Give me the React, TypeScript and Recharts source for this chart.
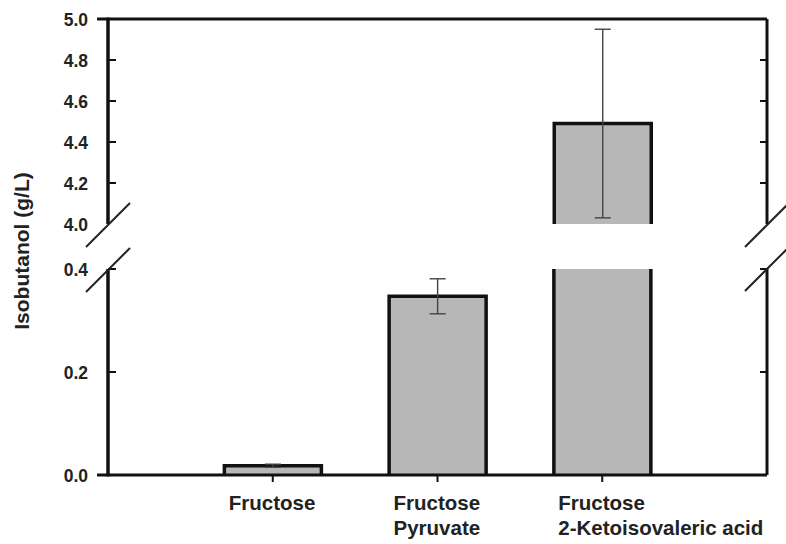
import React from "react";
import { BarChart, Bar, XAxis, YAxis, ErrorBar } from "recharts";

// ---------------- data ----------------
const categoryPositions = [1, 2, 3];
const categoryLabels = [
  ["Fructose"],
  ["Fructose", "Pyruvate"],
  ["Fructose", "2-Ketoisovaleric acid"],
];
const isobutanol = [0.018, 0.347, 4.49];
const isobutanolErr = [0.003, 0.034, 0.46];
const lowerTicks = [0, 0.2, 0.4];
const lowerInnerTicks = [0.2, 0.4];
const upperTicks = [4.0, 4.2, 4.4, 4.6, 4.8, 5.0];
const upperInnerTicks = [4.2, 4.4, 4.6, 4.8];
const lowerDomain = [0, 0.4];
const upperDomain = [4, 5];
const xDomain = [0, 4];
const yTitle = "Isobutanol (g/L)";

// ---------------- layout ----------------
const W = 786;
const H = 544;
const PLOT_LEFT = 108;
const PLOT_RIGHT = 767;
const UPPER_TOP = 19;
const UPPER_BOTTOM = 224;
const LOWER_TOP = 269;
const LOWER_BOTTOM = 475;
const UPPER_H = 250;
const LOWER_Y = 244;
const LOWER_H = H - LOWER_Y;
const YAXIS_W = 60;
const RAXIS_W = 1;
const XAXIS_H = 60;
const TICK_GAP = 20;
const FONT = "'Liberation Sans', Arial, Helvetica, sans-serif";
const AXIS_COLOR = "#111";
const TEXT_COLOR = "#222";
const BAR_FILL = "#b7b7b7";

const rows = categoryPositions.map((x, i) => ({
  x,
  value: isobutanol[i],
  err: isobutanolErr[i],
}));
const lowerData = rows.map((r) => ({
  ...r,
  err: r.value + r.err <= lowerDomain[1] ? r.err : null,
}));
const upperData = rows.filter((r) => r.value >= upperDomain[0]);

const makeYTick = (outwardValue: number) => (props: any) => {
  const { x, y, payload } = props;
  const v = payload.value as number;
  const axisX = x + TICK_GAP;
  return (
    <g>
      {v === outwardValue && (
        <line x1={axisX - 11} x2={axisX} y1={y} y2={y} stroke={AXIS_COLOR} strokeWidth={3} />
      )}
      <text
        x={x}
        y={y}
        dy="0.42em"
        textAnchor="end"
        fontFamily={FONT}
        fontWeight={700}
        fontSize={17.5}
        fill={TEXT_COLOR}
      >
        {v.toFixed(1)}
      </text>
    </g>
  );
};
const UpperYTick = makeYTick(5);
const LowerYTick = makeYTick(0);

const RightTick = (props: any) => {
  const { x, y } = props;
  return <line x1={x - 7} x2={x} y1={y} y2={y} stroke={AXIS_COLOR} strokeWidth={2} />;
};

const XTick = (props: any) => {
  const { x, y, payload } = props;
  const idx = categoryPositions.indexOf(payload.value);
  const lines = idx >= 0 ? categoryLabels[idx] : [];
  return (
    <text
      x={x - 44}
      y={y}
      textAnchor="start"
      fontFamily={FONT}
      fontWeight={700}
      fontSize={20.5}
      fill={TEXT_COLOR}
    >
      {lines.map((l, i) => (
        <tspan key={i} x={x - 44} y={y + 26 + i * 25}>
          {l}
        </tspan>
      ))}
    </text>
  );
};

const OpenBar = (props: any) => {
  const { x, y, width, height, fill, background } = props;
  if (x == null || y == null || height == null) return null;
  let top = Math.min(y, y + height);
  let bottom = Math.max(y, y + height);
  let drawTop = true;
  if (background && typeof background.y === "number") {
    const bTop = background.y;
    const bBottom = background.y + background.height;
    if (top < bTop) {
      top = bTop;
      drawTop = false;
    }
    if (bottom > bBottom) bottom = bBottom;
  }
  if (bottom <= top) return null;
  const d = drawTop
    ? `M${x},${bottom} L${x},${top} L${x + width},${top} L${x + width},${bottom}`
    : `M${x},${bottom} L${x},${top} M${x + width},${top} L${x + width},${bottom}`;
  return (
    <g>
      <rect x={x} y={top} width={width} height={bottom - top} fill={fill} />
      <path d={d} fill="none" stroke={AXIS_COLOR} strokeWidth={3.5} />
    </g>
  );
};

const axisLineStyle = { stroke: AXIS_COLOR, strokeWidth: 3 };
const xTickLineStyle = { stroke: AXIS_COLOR, strokeWidth: 2 };

// linear position of an axis value inside a panel (same mapping as the chart's y scale)
const panelY = (v: number, domain: number[], top: number, bottom: number) =>
  top + ((domain[1] - v) / (domain[1] - domain[0])) * (bottom - top);

export default function App() {
  const slashes = [
    [PLOT_LEFT, UPPER_BOTTOM + 1],
    [PLOT_LEFT, LOWER_TOP + 1],
    [PLOT_RIGHT, UPPER_BOTTOM + 1],
    [PLOT_RIGHT, LOWER_TOP],
  ];
  const leftTicks = [
    ...upperInnerTicks.map((v) => panelY(v, upperDomain, UPPER_TOP, UPPER_BOTTOM)),
    ...lowerInnerTicks.map((v) => panelY(v, lowerDomain, LOWER_TOP, LOWER_BOTTOM)),
  ];
  return (
    <div style={{ position: "absolute", left: 0, top: 0, width: W, height: H }}>
      <div style={{ position: "absolute", left: 0, top: 0 }}>
        <BarChart
          width={W}
          height={UPPER_H}
          data={upperData}
          margin={{
            top: UPPER_TOP - 1,
            right: W - PLOT_RIGHT - RAXIS_W,
            bottom: UPPER_H - UPPER_BOTTOM,
            left: PLOT_LEFT - YAXIS_W,
          }}
        >
          <XAxis
            type="number"
            dataKey="x"
            domain={xDomain}
            orientation="top"
            height={1}
            tick={false}
            tickLine={false}
            axisLine={axisLineStyle}
          />
          <YAxis
            yAxisId="l"
            type="number"
            domain={upperDomain}
            ticks={upperTicks}
            allowDataOverflow
            width={YAXIS_W}
            tickSize={0}
            tickMargin={TICK_GAP}
            tickLine={false}
            tick={UpperYTick}
            axisLine={axisLineStyle}
            interval={0}
          />
          <YAxis
            yAxisId="r"
            orientation="right"
            type="number"
            domain={upperDomain}
            ticks={upperInnerTicks}
            allowDataOverflow
            width={RAXIS_W}
            tickSize={0}
            tickMargin={0}
            tickLine={false}
            tick={RightTick}
            axisLine={axisLineStyle}
            interval={0}
          />
          <Bar
            yAxisId="l"
            dataKey="value"
            fill={BAR_FILL}
            barSize={97}
            shape={OpenBar}
            isAnimationActive={false}
          >
            <ErrorBar dataKey="err" width={8} stroke="#444" strokeWidth={1.4} />
          </Bar>
        </BarChart>
      </div>
      <div style={{ position: "absolute", left: 0, top: LOWER_Y }}>
        <BarChart
          width={W}
          height={LOWER_H}
          data={lowerData}
          margin={{
            top: LOWER_TOP - LOWER_Y,
            right: W - PLOT_RIGHT - RAXIS_W,
            bottom: LOWER_H - (LOWER_BOTTOM - LOWER_Y) - XAXIS_H,
            left: PLOT_LEFT - YAXIS_W,
          }}
        >
          <XAxis
            type="number"
            dataKey="x"
            domain={xDomain}
            ticks={categoryPositions}
            interval={0}
            height={XAXIS_H}
            tickSize={7}
            tickMargin={2}
            tickLine={xTickLineStyle}
            axisLine={axisLineStyle}
            tick={XTick}
          />
          <YAxis
            yAxisId="l"
            type="number"
            domain={lowerDomain}
            ticks={lowerTicks}
            allowDataOverflow
            width={YAXIS_W}
            tickSize={0}
            tickMargin={TICK_GAP}
            tickLine={false}
            tick={LowerYTick}
            axisLine={axisLineStyle}
            interval={0}
          />
          <YAxis
            yAxisId="r"
            orientation="right"
            type="number"
            domain={lowerDomain}
            ticks={lowerInnerTicks}
            allowDataOverflow
            width={RAXIS_W}
            tickSize={0}
            tickMargin={0}
            tickLine={false}
            tick={RightTick}
            axisLine={axisLineStyle}
            interval={0}
          />
          <Bar
            yAxisId="l"
            dataKey="value"
            fill={BAR_FILL}
            barSize={97}
            shape={OpenBar}
            isAnimationActive={false}
          >
            <ErrorBar dataKey="err" width={8} stroke="#444" strokeWidth={1.4} />
          </Bar>
        </BarChart>
      </div>
      <svg
        width={W}
        height={H}
        style={{ position: "absolute", left: 0, top: 0, pointerEvents: "none" }}
      >
        <line x1={PLOT_LEFT} x2={PLOT_LEFT} y1={UPPER_TOP - 1.5} y2={UPPER_BOTTOM} stroke={AXIS_COLOR} strokeWidth={3} />
        <line x1={PLOT_LEFT} x2={PLOT_LEFT} y1={LOWER_TOP} y2={LOWER_BOTTOM + 1.5} stroke={AXIS_COLOR} strokeWidth={3} />
        {leftTicks.map((ty, i) => (
          <line key={`t${i}`} x1={PLOT_LEFT} x2={PLOT_LEFT + 8} y1={ty} y2={ty} stroke={AXIS_COLOR} strokeWidth={2} />
        ))}
        {slashes.map(([sx, sy], i) => (
          <line
            key={i}
            x1={sx - 22}
            y1={sy + 22}
            x2={sx + 22}
            y2={sy - 22}
            stroke="#222"
            strokeWidth={2}
          />
        ))}
        <text
          transform={`translate(22, ${(UPPER_TOP + LOWER_BOTTOM) / 2 + 4}) rotate(-90)`}
          textAnchor="middle"
          dy="0.35em"
          fontFamily={FONT}
          fontWeight={700}
          fontSize={21}
          fill={TEXT_COLOR}
        >
          {yTitle}
        </text>
      </svg>
    </div>
  );
}
